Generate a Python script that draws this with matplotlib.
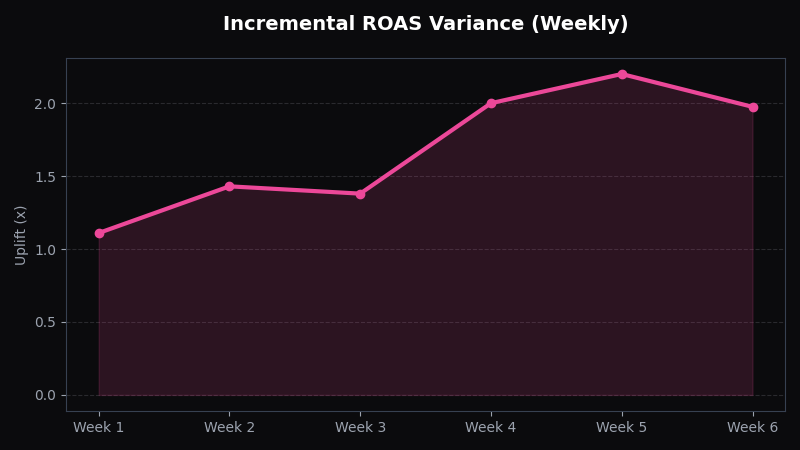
import matplotlib
matplotlib.use('Agg')
import matplotlib.pyplot as plt

weeks = ['Week 1', 'Week 2', 'Week 3', 'Week 4', 'Week 5', 'Week 6']
uplift = [1.11, 1.43, 1.38, 2.00, 2.20, 1.975]

bg = '#0b0b0d'
pink = '#ec4899'
txt = '#9ca3af'

fig = plt.figure(figsize=(8, 4.5), dpi=100, facecolor=bg)
ax = fig.add_axes([0.0825, 0.0867, 0.899, 0.7845])
ax.set_facecolor(bg)

x = list(range(len(weeks)))
ax.fill_between(x, uplift, 0, color=pink, alpha=0.15, linewidth=1)
ax.plot(x, uplift, '-o', color=pink, linewidth=3, markersize=6)

ax.set_xticks(x)
ax.set_xticklabels(weeks)
ax.set_yticks([0.0, 0.5, 1.0, 1.5, 2.0])
ax.tick_params(colors=txt, labelsize=10)
for s in ax.spines.values():
    s.set_color('#374151')
ax.grid(axis='y', linestyle='--', color='#2a2a2e', linewidth=0.8)
ax.set_axisbelow(True)
ax.set_ylabel('Uplift (x)', color=txt, fontsize=10)

ax.set_title('Incremental ROAS Variance (Weekly)', color='white',
             fontsize=14, fontweight='bold', pad=20)

fig.savefig('out.png', facecolor=bg)
